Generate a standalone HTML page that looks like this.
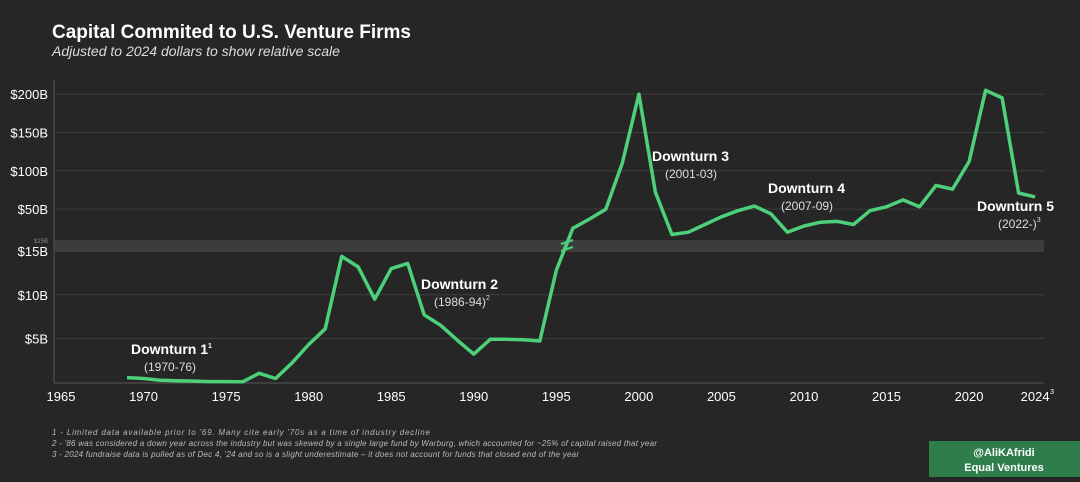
<!DOCTYPE html>
<html><head><meta charset="utf-8"><style>
body{margin:0;background:#262626;width:1080px;height:477px;overflow:hidden;font-family:"Liberation Sans",sans-serif;}
svg text{font-family:"Liberation Sans",sans-serif;}
</style></head><body>
<svg id="c" width="1080" height="477">
<rect x="0" y="0" width="1080" height="477" fill="#262626"/>
<text x="52" y="38" fill="#fff" font-size="19" font-weight="bold">Capital Commited to U.S. Venture Firms</text>
<text x="52" y="56" fill="#ddd" font-size="14" font-style="italic">Adjusted to 2024 dollars to show relative scale</text>
<g id="grid"></g>
<rect x="54" y="240" width="990" height="12" fill="#3c3c3c"/>
<text x="48" y="243" fill="#888" font-size="6" text-anchor="end">$15B</text>
<line x1="54" y1="80" x2="54" y2="383" stroke="#555"/>
<line x1="54" y1="383" x2="1044" y2="383" stroke="#555"/>
<g id="marks"></g>
<g font-size="14" font-weight="bold" fill="#fff">
<text x="131" y="354">Downturn 1<tspan font-size="7" dy="-6">1</tspan></text>
<text x="421" y="289">Downturn 2</text>
<text x="652" y="161">Downturn 3</text>
<text x="768" y="193">Downturn 4</text>
<text x="977" y="211">Downturn 5</text>
</g>
<g font-size="12" fill="#ddd">
<text x="144" y="371">(1970-76)</text>
<text x="434" y="306">(1986-94)<tspan font-size="7" dy="-6">2</tspan></text>
<text x="665" y="178">(2001-03)</text>
<text x="781" y="210">(2007-09)</text>
<text x="998" y="228">(2022-)<tspan font-size="7" dy="-6">3</tspan></text>
</g>
<g font-size="8" font-style="italic" fill="#bbb">
<text x="52" y="435" textLength="378">1 - Limited data available prior to '69. Many cite early '70s as a time of industry decline</text>
<text x="52" y="446" textLength="605">2 - '86 was considered a down year across the industry but was skewed by a single large fund by Warburg, which accounted for ~25% of capital raised that year</text>
<text x="52" y="457" textLength="527">3 - 2024 fundraise data is pulled as of Dec 4, '24 and so is a slight underestimate – it does not account for funds that closed end of the year</text>
</g>
<rect x="929" y="441" width="151" height="36" fill="#2e7d4a"/>
<text x="1004" y="456" fill="#fff" font-size="11" font-weight="bold" text-anchor="middle">@AliKAfridi</text>
<text x="1004" y="471" fill="#fff" font-size="11" font-weight="bold" text-anchor="middle">Equal Ventures</text>
</svg>
<script>
const years=[1969,1970,1971,1972,1973,1974,1975,1976,1977,1978,1979,1980,1981,1982,1983,1984,1985,1986,1987,1988,1989,1990,1991,1992,1993,1994,1995,1996,1997,1998,1999,2000,2001,2002,2003,2004,2005,2006,2007,2008,2009,2010,2011,2012,2013,2014,2015,2016,2017,2018,2019,2020,2021,2022,2023,2024];
const capital=[0.5,0.4,0.2,0.15,0.1,0.05,0.05,0.02,1.0,0.4,2.2,4.3,6.1,14.4,13.2,9.5,13.0,13.6,7.7,6.5,4.8,3.2,4.9,4.9,4.85,4.7,12.8,25,37,50,110,200,72,17,20,30,40,48,54,44,20,28,33,34,30,48,53,62,53,81,76,112,205,195,71,66];
const xTicks=[1965,1970,1975,1980,1985,1990,1995,2000,2005,2010,2015,2020,2024];
const lowTicks=[5,10,15];
const highTicks=[50,100,150,200];
const xs=y=>61+(y-1965)*16.51;
const yLow=v=>382-v*8.72;
const yHigh=v=>247.5-v*0.767;
const yv=v=>v>=17?yHigh(v):yLow(v);
const NS='http://www.w3.org/2000/svg';
const grid=document.getElementById('grid'),marks=document.getElementById('marks');
function mk(tag,at,par){const e=document.createElementNS(NS,tag);for(const k in at)e.setAttribute(k,at[k]);par.appendChild(e);return e;}
lowTicks.concat(highTicks).forEach(t=>{
  const y=t<=15?yLow(t):yHigh(t);
  const l=mk('line',{x1:54,x2:1044,y1:y,y2:y,stroke:'#3d3d3d'},grid);
  
  
  const tx=mk('text',{x:48,y:y+5,fill:'#fff','font-size':13,'text-anchor':'end'},grid);
  tx.textContent='$'+t+'B';
  
  
});
xTicks.forEach(t=>{
  const tx=mk('text',{x:xs(t),y:401,fill:'#fff','font-size':13,'text-anchor':'middle'},grid);
  tx.textContent=t;
  
  
});
const sup=mk('text',{x:xs(2024)+15,y:394,fill:'#fff','font-size':7},grid);sup.textContent='3';


const pts=years.map((y,i)=>xs(y).toFixed(1)+','+yv(capital[i]).toFixed(1)).join(' ');
const pl=mk('polyline',{points:pts,fill:'none',stroke:'#4cd07a','stroke-width':3.5,'stroke-linejoin':'round'},marks);


[242,249].forEach(y=>{const b=mk('line',{x1:561,x2:573,y1:y+2,y2:y-2,stroke:'#4cd07a','stroke-width':2},marks);

});
</script>
</body></html>
